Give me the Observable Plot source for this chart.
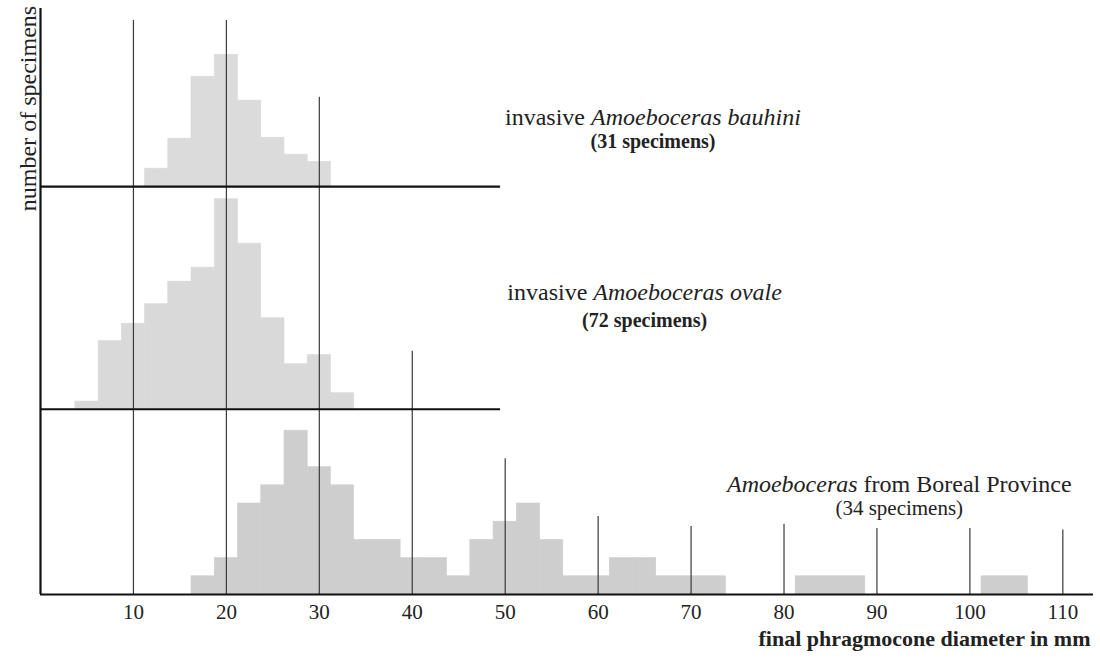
<!DOCTYPE html>
<html>
<head>
<meta charset="utf-8">
<script src="https://cdn.jsdelivr.net/npm/d3@7"></script>
<script src="https://cdn.jsdelivr.net/npm/@observablehq/plot@0.6"></script>
<style>
  html, body { margin: 0; padding: 0; background: #fff; }
  #chart svg { display: block; }
  #chart svg, #chart svg text, #chart svg tspan {
    font-family: "Liberation Serif", "Times New Roman", Times, serif !important;
  }
</style>
</head>
<body>
<div id="chart"></div>
<script>
// ---- data ----
const binWidth = 2.5; // mm

// invasive Amoeboceras bauhini (31 specimens)
const bauhiniBins   = [12.5, 15, 17.5, 20, 22.5, 25, 27.5, 30];
const bauhiniCounts = [0.99, 2.64, 6.04, 7.25, 4.73, 2.69, 1.76, 1.37];

// invasive Amoeboceras ovale (72 specimens)
const ovaleBins   = [5, 7.5, 10, 12.5, 15, 17.5, 20, 22.5, 25, 27.5, 30, 32.5];
const ovaleCounts = [0.42, 3.74, 4.70, 5.77, 7.01, 7.78, 11.54, 9.10, 5.0, 2.47, 2.98, 0.88];

// Amoeboceras from Boreal Province (34 specimens)
const borealBins   = [17.5, 20, 22.5, 25, 27.5, 30, 32.5, 35, 37.5, 40, 42.5, 45, 47.5, 50, 52.5, 55,
                      57.5, 60, 62.5, 65, 67.5, 70, 72.5, 82.5, 85, 87.5, 102.5, 105];
const borealCounts = [1, 2, 5, 6, 9, 7, 6, 3, 3, 2, 2, 1, 3, 4, 5, 3,
                      1, 1, 2, 2, 1, 1, 1, 1, 1, 1, 1, 1];

// x ticks and the height each vertical guide line reaches
const xTicks   = [10, 20, 30, 40, 50, 60, 70, 80, 90, 100, 110];
const gridTops = [31.54, 31.54, 27.32, 13.37, 7.46, 4.29, 3.74, 3.86, 3.63, 3.63, 3.55];

const titleLines    = ["invasive *Amoeboceras bauhini*", "invasive *Amoeboceras ovale*", "*Amoeboceras* from Boreal Province"];
const subtitleLines = ["(31 specimens)", "(72 specimens)", "(34 specimens)"];
const xLabel = "final phragmocone diameter in mm";
const yLabel = "number of specimens";

// ---- layout ----
const panelBase  = [22.41, 10.18, 0];          // baseline of each stacked histogram (y units)
const panelEnd   = [49.5, 49.5, 113.3];        // where each baseline ends (mm)
const panelFill  = ["#dbdbdb", "#d9d9d9", "#cecece"];
const titleX     = [65.9, 65.0, 92.4];
const titleY     = [26.2, 16.6, 6.04];
const subtitleY  = [24.9, 15.05, 4.73];

const series = [
  {bins: bauhiniBins, counts: bauhiniCounts},
  {bins: ovaleBins, counts: ovaleCounts},
  {bins: borealBins, counts: borealCounts}
];

const barMarks = series.map((s, p) => {
  const rows = s.bins.map((c, i) => ({
    x1: c - binWidth / 2, x2: c + binWidth / 2,
    y1: panelBase[p], y2: panelBase[p] + s.counts[i]
  }));
  return Plot.rectY(rows, {x1: "x1", x2: "x2", y1: "y1", y2: "y2",
    fill: panelFill[p], stroke: panelFill[p], strokeWidth: 0.6});
});

const grid = xTicks.map((x, i) => ({x, top: gridTops[i]}));
const baselines = panelBase.map((b, i) => ({y: b, end: panelEnd[i]}));
const titles = titleLines.map((t, i) => ({t, x: titleX[i], y: titleY[i]}));
const subtitles = subtitleLines.map((t, i) => ({t, x: titleX[i], y: subtitleY[i]}));

const serif = "Liberation Serif, Times New Roman, Times, serif";

const chart = Plot.plot({
  width: 1100,
  height: 666,
  marginLeft: 40,
  marginRight: 7,
  marginTop: 0,
  marginBottom: 72,
  x: {domain: [0, 113.3]},
  y: {domain: [0, 32.64]},
  style: {fontFamily: serif, background: "#fff", color: "#222"},
  marks: [
    ...barMarks,
    Plot.ruleX(grid, {x: "x", y1: 0, y2: "top", stroke: "#3a3a3a", strokeWidth: 1.2}),
    Plot.ruleY(baselines, {y: "y", x1: 0, x2: "end", stroke: "#111", strokeWidth: 2.2}),
    Plot.ruleX([0], {y1: 0, y2: 32.2, stroke: "#111", strokeWidth: 2.2}),
    Plot.axisX({ticks: xTicks, tickSize: 0, tickPadding: 10, fontSize: 21, label: null,
      fill: "#222", fontFamily: serif}),
    Plot.axisY({ticks: [], label: null, tickSize: 0}),
    Plot.text(titles, {x: "x", y: "y", text: "t", fontSize: 24, fill: "#222", fontFamily: serif}),
    Plot.text(subtitles.slice(0, 2), {x: "x", y: "y", text: "t", fontSize: 20, fontWeight: "bold",
      fill: "#222", fontFamily: serif}),
    Plot.text(subtitles.slice(2), {x: "x", y: "y", text: "t", fontSize: 21,
      fill: "#222", fontFamily: serif}),
    Plot.text([xLabel], {frameAnchor: "bottom-right", dx: -3, dy: 51, textAnchor: "end",
      fontSize: 22, fontWeight: "bold", fill: "#222", fontFamily: serif}),
    Plot.text([yLabel], {frameAnchor: "top-left", dx: -22, dy: 108, rotate: -90,
      textAnchor: "middle", fontSize: 24, fill: "#222", fontFamily: serif})
  ]
});

// italic species names inside the titles (segments between * are italic)
d3.select(chart).selectAll("text").each(function () {
  const raw = this.textContent;
  if (!raw.includes("*")) return;
  const parts = raw.split("*");
  const sel = d3.select(this);
  sel.text(null);
  parts.forEach((part, k) => {
    if (!part) return;
    const ts = sel.append("tspan").text(part);
    if (k % 2 === 1) ts.attr("font-style", "italic");
  });
});

document.getElementById("chart").append(chart);
</script>
</body>
</html>
